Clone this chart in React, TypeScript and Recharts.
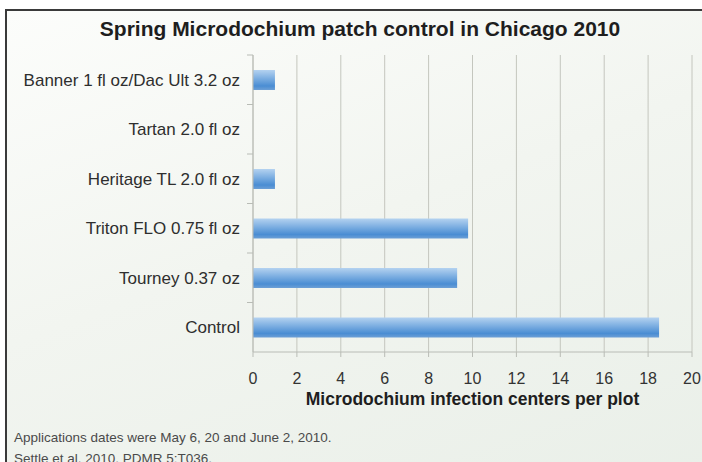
import React from 'react';
import { BarChart, Bar, XAxis, YAxis, CartesianGrid } from 'recharts';

// treatments, top to bottom as drawn
const treatments = [
  'Banner 1 fl oz/Dac Ult 3.2 oz',
  'Tartan 2.0 fl oz',
  'Heritage TL 2.0 fl oz',
  'Triton FLO 0.75 fl oz',
  'Tourney 0.37 oz',
  'Control',
];
const infectionCenters = [1, 0, 1, 9.8, 9.3, 18.5];
const xTicks = [0, 2, 4, 6, 8, 10, 12, 14, 16, 18, 20];

const chartTitle = 'Spring Microdochium patch control in Chicago 2010';
const xTitle = 'Microdochium infection centers per plot';
const footnotes = [
  'Applications dates were May 6, 20 and June 2, 2010.',
  'Settle et al. 2010. PDMR 5:T036.',
];

const data = treatments.map((name, i) => ({ name, value: infectionCenters[i] }));

const FONT = '"Liberation Sans", Arial, Helvetica, sans-serif';

// category label plus the small boundary tick Excel draws between bands
const CategoryTick = (props: any) => {
  const { x, y, payload } = props;
  const half = payload.offset || 0;
  return (
    <g>
      <line x1={247} x2={253} y1={y - half} y2={y - half} stroke="#b9bcb6" strokeWidth={1} />
      <text
        x={x - 5}
        y={y}
        dy="0.35em"
        textAnchor="end"
        fill="#2e2e2e"
        fontSize={17}
        fontFamily={FONT}
      >
        {payload.value}
      </text>
    </g>
  );
};

export default function App() {
  return (
    <div
      style={{
        position: 'absolute',
        left: 0,
        top: 0,
        width: 702,
        height: 462,
        background: '#ffffff',
        overflow: 'hidden',
        fontFamily: FONT,
      }}
    >
      {/* slide frame */}
      <div
        style={{
          position: 'absolute',
          left: 5,
          top: 9,
          width: 720,
          height: 480,
          borderLeft: '2px solid #3a3a3a',
          borderTop: '2px solid #3a3a3a',
          background: 'linear-gradient(160deg, #fcfdfb 0%, #f2f5f0 45%, #e9efe8 100%)',
        }}
      />

      <div
        style={{
          position: 'absolute',
          left: 9,
          width: 702,
          top: 17,
          textAlign: 'center',
          fontSize: 21,
          fontWeight: 'bold',
          color: '#1e1e1e',
          whiteSpace: 'nowrap',
        }}
      >
        {chartTitle}
      </div>

      <div style={{ position: 'absolute', left: 0, top: 0 }}>
        <BarChart
          width={702}
          height={462}
          data={data}
          layout="vertical"
          margin={{ top: 55, right: 10, bottom: 50, left: 0 }}
          barCategoryGap={0}
        >
          <defs>
            <linearGradient id="barFill" x1="0" y1="0" x2="0" y2="1">
              <stop offset="0%" stopColor="#b4d2f0" />
              <stop offset="40%" stopColor="#7fb0e2" />
              <stop offset="80%" stopColor="#4a8dd3" />
              <stop offset="100%" stopColor="#6c9fd6" />
            </linearGradient>
          </defs>
          <CartesianGrid horizontal={false} stroke="#c4c6be" strokeWidth={1} />
          <XAxis
            type="number"
            domain={[0, 20]}
            ticks={xTicks}
            interval={0}
            height={60}
            axisLine={{ stroke: '#b9bcb6' }}
            tickLine={{ stroke: '#b9bcb6' }}
            tickSize={5}
            tickMargin={16}
            tick={{ fill: '#333333', fontSize: 16, fontFamily: FONT }}
            label={{
              value: xTitle,
              position: 'insideBottom',
              offset: 7,
              fill: '#1e1e1e',
              fontSize: 17.5,
              fontWeight: 'bold',
              fontFamily: FONT,
            }}
          />
          <YAxis
            type="category"
            dataKey="name"
            width={253}
            axisLine={{ stroke: '#b9bcb6' }}
            tickLine={false}
            tick={<CategoryTick />}
            interval={0}
          />
          <Bar dataKey="value" fill="url(#barFill)" barSize={20} isAnimationActive={false} />
        </BarChart>
      </div>

      {footnotes.map((line, i) => (
        <div
          key={i}
          style={{
            position: 'absolute',
            left: 14,
            top: 430 + i * 21,
            fontSize: 13.5,
            color: '#4a4a4a',
            whiteSpace: 'nowrap',
          }}
        >
          {line}
        </div>
      ))}
    </div>
  );
}
